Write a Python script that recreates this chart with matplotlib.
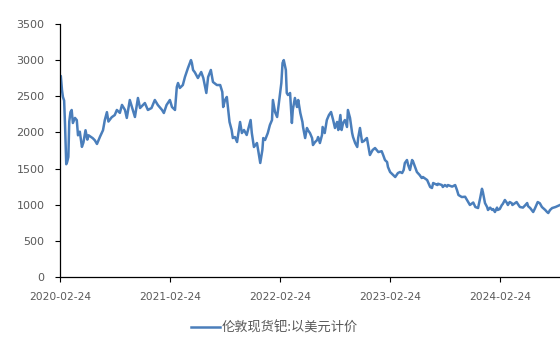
import matplotlib
matplotlib.use("Agg")
import matplotlib.pyplot as plt
import numpy as np

# London spot palladium, USD per ounce
dates = [
    "2020-02-24", "2020-02-27", "2020-03-02", "2020-03-05", "2020-03-09", "2020-03-12",
    "2020-03-16", "2020-03-19", "2020-03-23", "2020-03-26", "2020-03-30", "2020-04-03",
    "2020-04-07", "2020-04-14", "2020-04-20", "2020-04-24", "2020-04-30", "2020-05-07",
    "2020-05-12", "2020-05-19", "2020-05-25", "2020-05-29", "2020-06-05", "2020-06-12",
    "2020-06-19", "2020-06-26", "2020-07-06", "2020-07-16", "2020-07-22", "2020-07-29",
    "2020-08-03", "2020-08-14", "2020-08-24", "2020-08-31", "2020-09-10", "2020-09-17",
    "2020-09-27", "2020-10-03", "2020-10-13", "2020-10-20", "2020-10-30", "2020-11-09",
    "2020-11-16", "2020-12-02", "2020-12-12", "2020-12-24", "2021-01-04", "2021-01-14",
    "2021-01-28", "2021-02-03", "2021-02-12", "2021-02-23", "2021-03-02", "2021-03-12",
    "2021-03-18", "2021-03-22", "2021-03-28", "2021-04-07", "2021-04-14", "2021-04-24",
    "2021-05-04", "2021-05-07", "2021-05-11", "2021-05-17", "2021-05-27", "2021-06-07",
    "2021-06-14", "2021-06-24", "2021-06-30", "2021-07-09", "2021-07-16", "2021-07-29",
    "2021-08-09", "2021-08-16", "2021-08-19", "2021-08-25", "2021-08-31", "2021-09-03",
    "2021-09-09", "2021-09-16", "2021-09-20", "2021-09-27", "2021-10-04", "2021-10-11",
    "2021-10-14", "2021-10-20", "2021-10-27", "2021-11-05", "2021-11-12", "2021-11-18",
    "2021-11-22", "2021-11-29", "2021-12-09", "2021-12-13", "2021-12-20", "2021-12-27",
    "2021-12-30", "2022-01-05", "2022-01-14", "2022-01-21", "2022-01-28", "2022-01-31",
    "2022-02-07", "2022-02-14", "2022-02-17", "2022-02-28", "2022-03-04", "2022-03-08",
    "2022-03-15", "2022-03-18", "2022-03-22", "2022-03-29", "2022-04-04", "2022-04-07",
    "2022-04-14", "2022-04-21", "2022-04-25", "2022-05-02", "2022-05-09", "2022-05-11",
    "2022-05-18", "2022-05-24", "2022-05-27", "2022-06-03", "2022-06-10", "2022-06-13",
    "2022-06-20", "2022-06-27", "2022-06-30", "2022-07-06", "2022-07-13", "2022-07-15",
    "2022-07-22", "2022-07-29", "2022-08-05", "2022-08-12", "2022-08-19", "2022-08-25",
    "2022-09-01", "2022-09-05", "2022-09-12", "2022-09-16", "2022-09-21", "2022-09-27",
    "2022-10-04", "2022-10-07", "2022-10-14", "2022-10-21", "2022-10-24", "2022-10-31",
    "2022-11-07", "2022-11-10", "2022-11-16", "2022-11-23", "2022-11-29", "2022-12-09",
    "2022-12-13", "2022-12-19", "2022-12-28", "2023-01-05", "2023-01-16", "2023-01-27",
    "2023-02-01", "2023-02-07", "2023-02-14", "2023-02-17", "2023-02-24", "2023-03-06",
    "2023-03-13", "2023-03-22", "2023-03-29", "2023-04-05", "2023-04-10", "2023-04-14",
    "2023-04-21", "2023-04-25", "2023-05-01", "2023-05-08", "2023-05-11", "2023-05-18",
    "2023-05-24", "2023-06-02", "2023-06-09", "2023-06-13", "2023-06-27", "2023-07-07",
    "2023-07-13", "2023-07-17", "2023-07-31", "2023-08-02", "2023-08-15", "2023-08-18",
    "2023-08-25", "2023-09-01", "2023-09-04", "2023-09-18", "2023-09-28", "2023-10-04",
    "2023-10-09", "2023-10-20", "2023-10-31", "2023-11-10", "2023-11-16", "2023-11-27",
    "2023-12-04", "2023-12-13", "2023-12-20", "2023-12-26", "2023-12-29", "2024-01-05",
    "2024-01-12", "2024-01-15", "2024-01-22", "2024-01-29", "2024-02-01", "2024-02-07",
    "2024-02-14", "2024-02-16", "2024-02-23", "2024-03-01", "2024-03-04", "2024-03-11",
    "2024-03-18", "2024-03-21", "2024-03-27", "2024-04-03", "2024-04-05", "2024-04-19",
    "2024-04-23", "2024-04-30", "2024-05-10", "2024-05-17", "2024-05-24", "2024-05-27",
    "2024-06-03", "2024-06-13", "2024-06-19", "2024-06-28", "2024-07-05", "2024-07-12",
    "2024-07-23", "2024-07-29", "2024-08-02", "2024-08-08", "2024-08-15", "2024-08-26",
    "2024-09-10",
]
prices = [
    2720, 2780, 2580, 2490, 2440, 2100,
    1560, 1590, 1660, 2150, 2280, 2310,
    2130, 2200, 2170, 1960, 2010, 1800,
    1860, 2030, 1900, 1960, 1940, 1920,
    1890, 1840, 1940, 2030, 2170, 2280,
    2150, 2210, 2240, 2310, 2270, 2380,
    2310, 2200, 2448, 2351, 2213, 2476,
    2337, 2406, 2310, 2337, 2448, 2379,
    2310, 2268, 2379, 2448, 2351, 2310,
    2628, 2683, 2614, 2655, 2766, 2890,
    3000, 2960, 2863, 2830, 2752, 2835,
    2752, 2545, 2766, 2863, 2697, 2655,
    2655, 2559, 2351, 2448, 2490, 2379,
    2144, 2033, 1922, 1936, 1867, 2061,
    2144, 1991, 2033, 1964, 2075, 2171,
    1991, 1798, 1853, 1756, 1577, 1756,
    1922, 1895, 1991, 2102, 2171, 2448,
    2282, 2213, 2310, 2683, 2960, 3000,
    2863, 2545, 2517, 2545, 2130, 2310,
    2476, 2351, 2448, 2268, 2144, 2075,
    1922, 2061, 2033, 1991, 1922, 1825,
    1867, 1895, 1936, 1853, 1964, 2075,
    1991, 2171, 2240, 2282, 2171, 2061,
    2144, 2033, 2240, 2033, 2130, 2171,
    2075, 2310, 2200, 1991, 1936, 1853,
    1798, 1922, 2061, 1867, 1880, 1922,
    1825, 1687, 1756, 1784, 1728, 1740,
    1687, 1618, 1590, 1521, 1452, 1411,
    1383, 1438, 1452, 1438, 1480, 1577,
    1618, 1549, 1480, 1618, 1600, 1521,
    1452, 1411, 1369, 1383, 1341, 1245,
    1231, 1300, 1272, 1290, 1272, 1245,
    1272, 1250, 1272, 1250, 1272, 1203,
    1134, 1106, 1110, 1037, 996, 1030,
    968, 954, 1092, 1220, 1175, 1023,
    968, 927, 960, 927, 940, 899,
    960, 927, 940, 996, 1010, 1065,
    1023, 996, 1037, 1020, 996, 1037,
    1010, 968, 960, 990, 1023, 980,
    954, 899, 950, 1037, 1020, 968,
    927, 899, 885, 927, 954, 968,
    996,
]

tick_dates = ["2020-02-24", "2021-02-24", "2022-02-24", "2023-02-24", "2024-02-24"]
y_ticks = [0, 500, 1000, 1500, 2000, 2500, 3000, 3500]
series_label = "伦敦现货钯:以美元计价"

x = np.array(dates, dtype="datetime64[D]")
y = np.array(prices, dtype=float)

fig = plt.figure(figsize=(5.6, 3.37), dpi=100)
ax = fig.add_axes([0.107, 0.178, 0.893, 0.751])

line_color = "#4A7EBB"
ax.plot(x, y, color=line_color, linewidth=1.8, solid_joinstyle="round",
        label=series_label)

ax.set_xlim(np.datetime64("2020-02-24"), np.datetime64("2024-09-10"))
ax.set_ylim(0, 3500)
ax.set_yticks(y_ticks)
ax.set_xticks(np.array(tick_dates, dtype="datetime64[D]"))
ax.set_xticklabels(tick_dates)

text_color = "#595959"
ax.tick_params(axis="y", direction="out", length=3.6, width=0.8, color="black",
               labelsize=8, labelcolor=text_color, pad=7.5)
ax.tick_params(axis="x", direction="out", length=3.6, width=0.8, color="black",
               labelsize=7.7, labelcolor=text_color, pad=7)
for lab in ax.get_xticklabels() + ax.get_yticklabels():
    lab.set_family("DejaVu Sans")

for side in ("top", "right"):
    ax.spines[side].set_visible(False)
for side in ("left", "bottom"):
    ax.spines[side].set_color("black")
    ax.spines[side].set_linewidth(0.9)

leg = fig.legend(loc="center", bbox_to_anchor=(0.49, 0.028), frameon=False,
                 handlelength=2.2, handletextpad=0.1,
                 prop={"family": ["Noto Sans CJK SC", "DejaVu Sans"], "size": 9.5})
for t in leg.get_texts():
    t.set_color(text_color)

fig.savefig("out.png", dpi=100)
